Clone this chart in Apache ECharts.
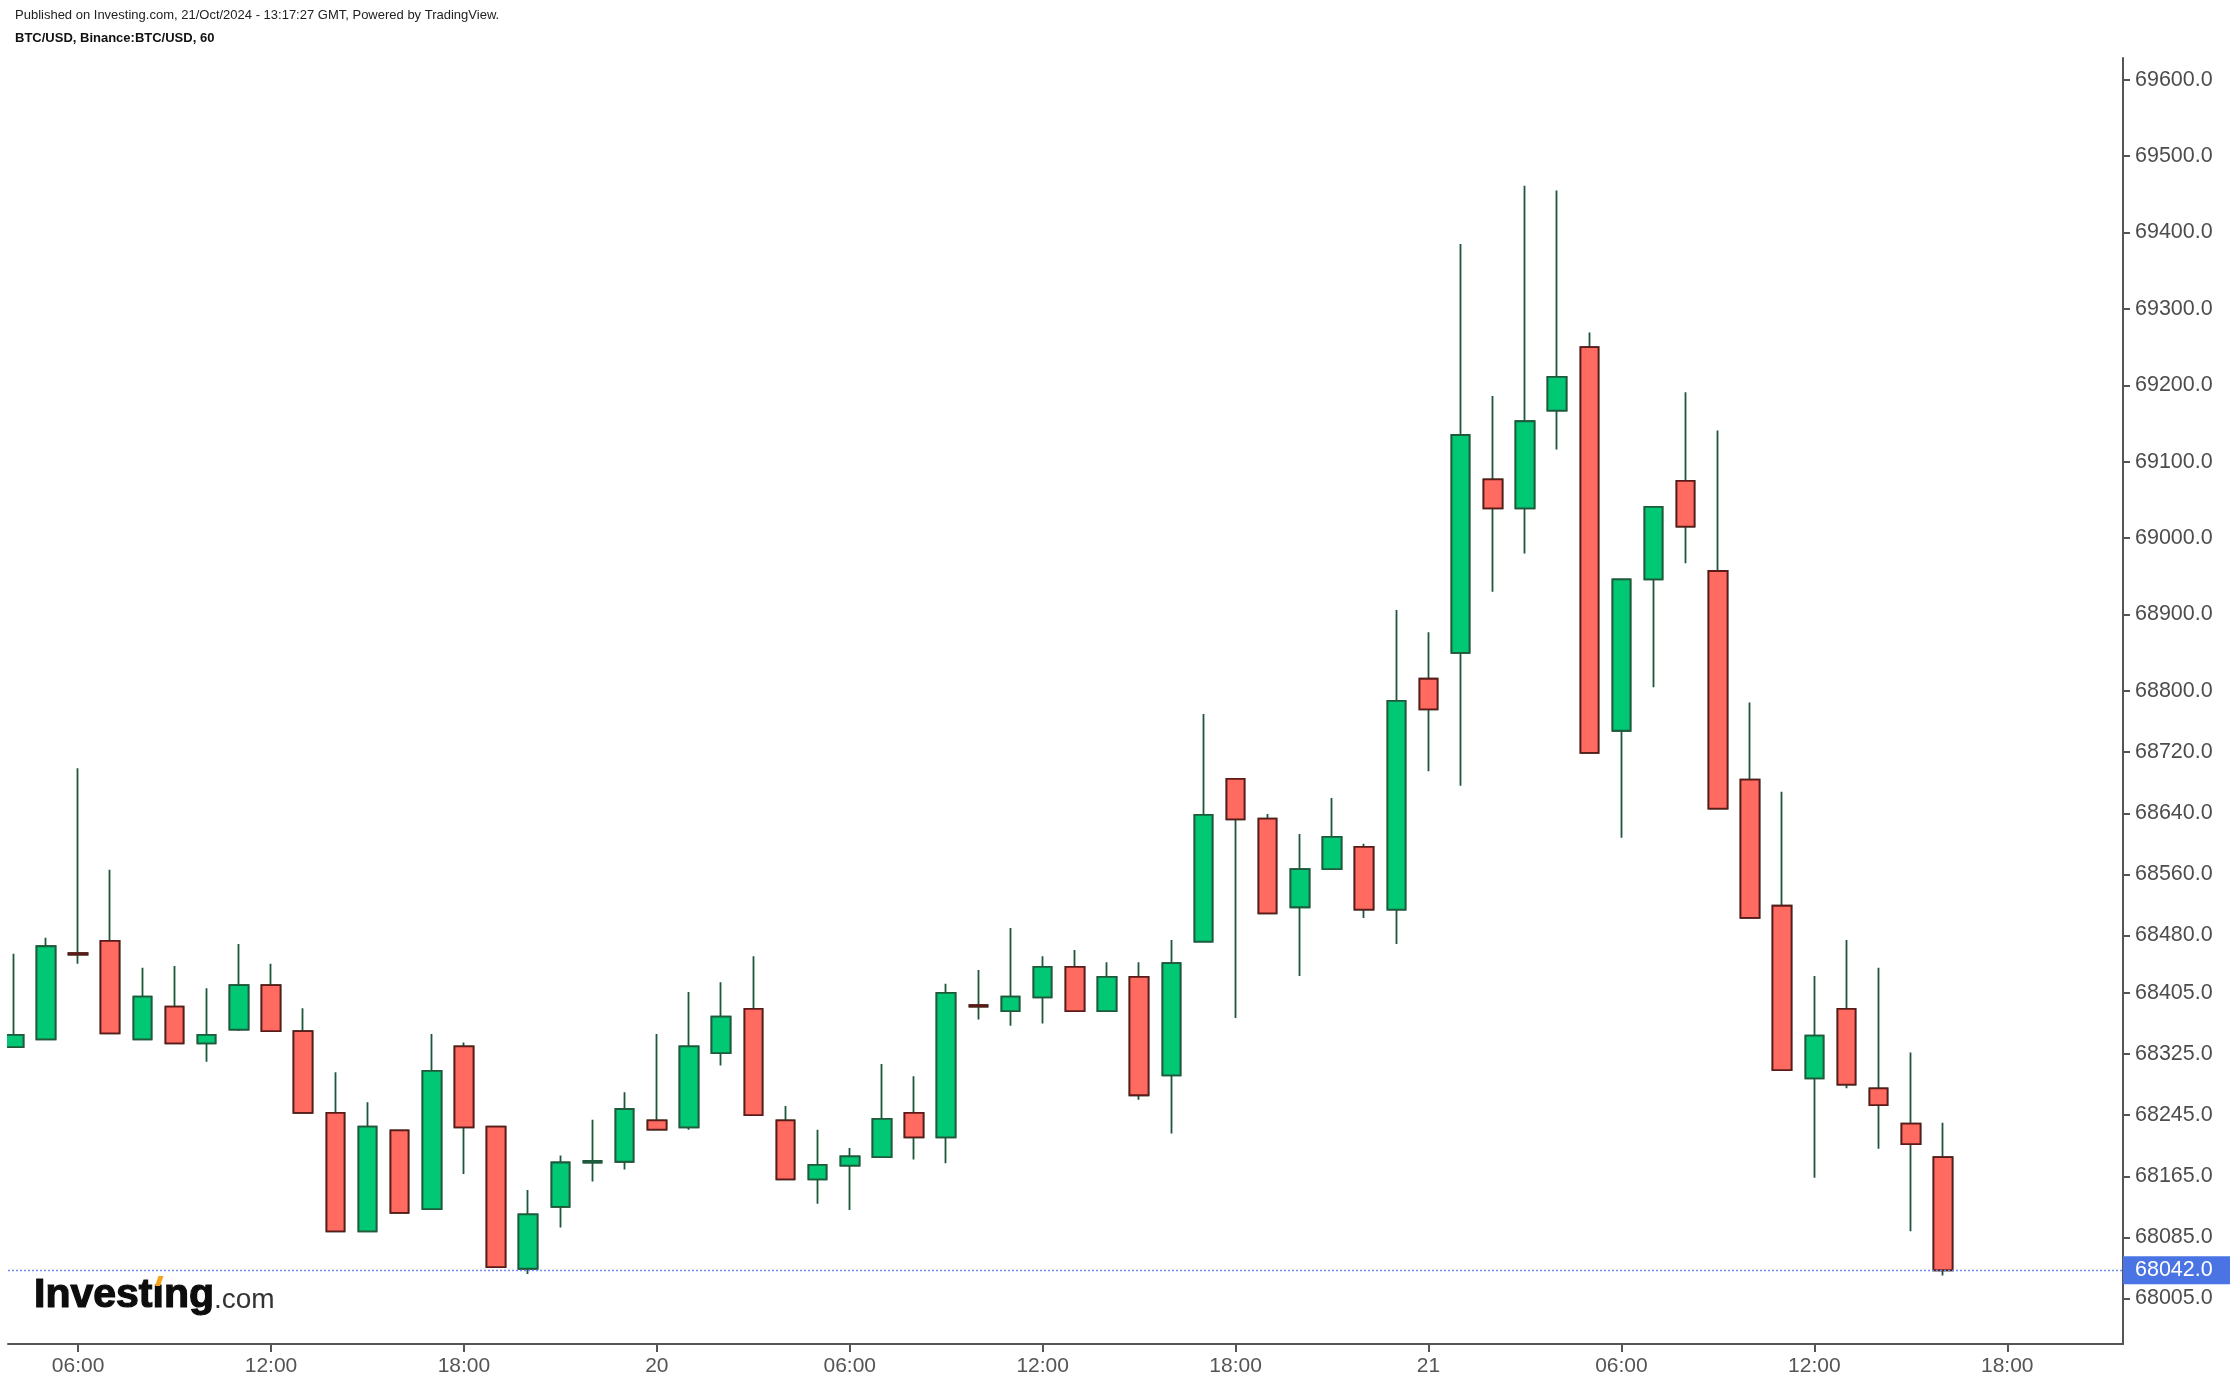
<!DOCTYPE html>
<html><head><meta charset="utf-8">
<script src="https://cdn.jsdelivr.net/npm/echarts@6/dist/echarts.min.js"></script>
<style>html,body{margin:0;padding:0;background:#fff}#c{width:2230px;height:1386px}</style>
</head><body><div id="c"></div>
<script>
// hourly candles, BTC/USD (Binance), 19 Oct 04:00 -> 21 Oct 16:00
const times = [
 '19 04:00','19 05:00','19 06:00','19 07:00','19 08:00','19 09:00','19 10:00','19 11:00','19 12:00','19 13:00',
 '19 14:00','19 15:00','19 16:00','19 17:00','19 18:00','19 19:00','19 20:00','19 21:00','19 22:00','19 23:00',
 '20 00:00','20 01:00','20 02:00','20 03:00','20 04:00','20 05:00','20 06:00','20 07:00','20 08:00','20 09:00',
 '20 10:00','20 11:00','20 12:00','20 13:00','20 14:00','20 15:00','20 16:00','20 17:00','20 18:00','20 19:00',
 '20 20:00','20 21:00','20 22:00','20 23:00','21 00:00','21 01:00','21 02:00','21 03:00','21 04:00','21 05:00',
 '21 06:00','21 07:00','21 08:00','21 09:00','21 10:00','21 11:00','21 12:00','21 13:00','21 14:00','21 15:00',
 '21 16:00'
];
const opens = [
 68334,68344,68457,68473,68344,68387,68339,68357,68415,68355,
 68248,68093,68225,68122,68335,68230,68044,68125,68183,68184,
 68238,68229,68326,68384,68238,68161,68179,68190,68248,68216,
 68389,68381,68399,68439,68381,68426,68297,68472,68685,68633,
 68517,68567,68596,68514,68816,68850,69077,69039,69167,69250,
 68748,68946,69075,68957,68684,68519,68293,68384,68280,68234,
 68190
];
const highs = [
 68456,68477,68699,68566,68438,68440,68411,68469,68443,68385,
 68301,68262,68225,68351,68340,68230,68147,68192,68239,68275,
 68351,68406,68419,68453,68257,68226,68202,68312,68296,68417,
 68435,68490,68453,68461,68445,68445,68474,68770,68685,68639,
 68613,68660,68600,68906,68877,69385,69186,69461,69455,69269,
 68946,69041,69191,69141,68785,68668,68427,68474,68438,68327,
 68235
];
const lows = [
 68333,68344,68443,68352,68344,68339,68315,68355,68355,68248,
 68093,68093,68117,68122,68168,68046,68037,68098,68158,68174,
 68226,68226,68310,68245,68161,68129,68121,68190,68187,68182,
 68370,68362,68365,68381,68381,68265,68221,68472,68372,68509,
 68427,68567,68503,68469,68695,68676,68930,68980,69116,68719,
 68608,68805,68967,68646,68503,68304,68163,68280,68201,68093,
 68035
];
const closes = [
 68350,68466,68455,68352,68400,68339,68350,68415,68355,68248,
 68093,68230,68117,68303,68229,68046,68115,68183,68185,68253,
 68226,68335,68374,68245,68161,68180,68191,68240,68216,68405,
 68387,68400,68439,68381,68426,68271,68444,68638,68632,68509,
 68567,68609,68514,68787,68776,69135,69039,69153,69211,68719,
 68946,69041,69015,68646,68503,68304,68349,68285,68258,68207,
 68042
];
const xTickIdx = [2,8,14,20,26,32,38,44,50,56,62];
const xTickLabels = ['06:00','12:00','18:00','20','06:00','12:00','18:00','21','06:00','12:00','18:00'];
const yTicks = [69600,69500,69400,69300,69200,69100,69000,68900,68800,68720,68640,68560,68480,68405,68325,68245,68165,68085,68005];
const lastPrice = 68042;

const UP_FILL = '#00c874', DOWN_FILL = '#ff6a61';
const UP_BORDER = '#1e5a3b', DOWN_BORDER = '#5c1b18', WICK = '#1d5639';
const FONT = '"Liberation Sans", Arial, sans-serif';

const full = times.map((t, i) => [i, opens[i], closes[i], lows[i], highs[i]]);
const bodies = times.map((t, i) => [i, opens[i], closes[i], Math.min(opens[i], closes[i]), Math.max(opens[i], closes[i])]);

const chart = echarts.init(document.getElementById('c'), null, {renderer: 'canvas'});
chart.setOption({
  animation: false,
  backgroundColor: '#ffffff',
  textStyle: {fontFamily: FONT},
  grid: {left: 8, right: 107, top: 58, bottom: 42, containLabel: false},
  xAxis: {
    type: 'value', min: -0.18, max: 65.6,
    axisLine: {show: true, onZero: false, lineStyle: {color: '#555555', width: 2}},
    axisTick: {show: true, customValues: xTickIdx, length: 8, lineStyle: {color: '#555555', width: 2}},
    axisLabel: {customValues: xTickIdx, formatter: v => xTickLabels[xTickIdx.indexOf(v)],
      fontSize: 21, color: '#555555', margin: 12, fontFamily: FONT},
    splitLine: {show: false}
  },
  yAxis: {
    type: 'value', position: 'right', min: 67945.5, max: 69628.3, scale: true,
    axisLine: {show: true, onZero: false, lineStyle: {color: '#555555', width: 2}},
    axisTick: {show: true, customValues: yTicks, length: 7, lineStyle: {color: '#555555', width: 2}},
    axisLabel: {customValues: yTicks, formatter: v => Number(v).toFixed(1),
      fontSize: 21.5, color: '#4d4d4d', margin: 12, fontFamily: FONT},
    splitLine: {show: false}
  },
  series: [
    {
      type: 'candlestick', silent: true, z: 2,
      data: full, encode: {x: 0, y: [1, 2, 3, 4]},
      barWidth: 19,
      itemStyle: {color: UP_FILL, color0: DOWN_FILL, borderColor: WICK, borderColor0: WICK, borderWidth: 1.8},
      markLine: {
        silent: true, symbol: ['none', 'none'], animation: false,
        data: [{yAxis: lastPrice}],
        lineStyle: {color: '#6f8cec', type: [2, 2], width: 1.3},
        label: {show: true, position: 'end', formatter: lastPrice.toFixed(1),
          backgroundColor: '#4a74e4', color: '#ffffff', fontSize: 21.5, fontFamily: FONT,
          padding: [3, 20, 3, 12], distance: 0}
      }
    },
    {
      type: 'candlestick', silent: true, z: 3,
      data: bodies, encode: {x: 0, y: [1, 2, 3, 4]},
      barWidth: 19,
      itemStyle: {color: UP_FILL, color0: DOWN_FILL, borderColor: UP_BORDER, borderColor0: DOWN_BORDER, borderWidth: 1.8}
    }
  ],
  graphic: [
    // plot-area clip on the left edge (first candle is cut by the pane border)
    {type: 'rect', silent: true, z: 50, shape: {x: 0, y: 56, width: 7, height: 1286}, style: {fill: '#ffffff'}},
    {type: 'text', left: 15, top: 9, silent: true,
      style: {text: 'Published on Investing.com, 21/Oct/2024 - 13:17:27 GMT, Powered by TradingView.',
        font: '13px ' + FONT, fill: '#222222'}},
    {type: 'text', left: 15, top: 32, silent: true,
      style: {text: 'BTC/USD, Binance:BTC/USD, 60', font: 'bold 13px ' + FONT, fill: '#111111'}},
    {type: 'text', x: 34, y: 1296, silent: true, z: 60,
      style: {text: 'Invest\u0131ng', font: 'bold 41px ' + FONT, fill: '#0d0d0d',
        stroke: '#0d0d0d', lineWidth: 1.2, textVerticalAlign: 'middle'}},
    {type: 'polygon', silent: true, z: 61,
      shape: {points: [[155, 1286], [158.5, 1276], [163.5, 1276], [160, 1286]]},
      style: {fill: '#f7a21b'}},
    {type: 'text', x: 214, y: 1300, silent: true, z: 60,
      style: {text: '.com', font: '28px ' + FONT, fill: '#333333', textVerticalAlign: 'middle'}}
  ]
});
</script>
</body></html>
